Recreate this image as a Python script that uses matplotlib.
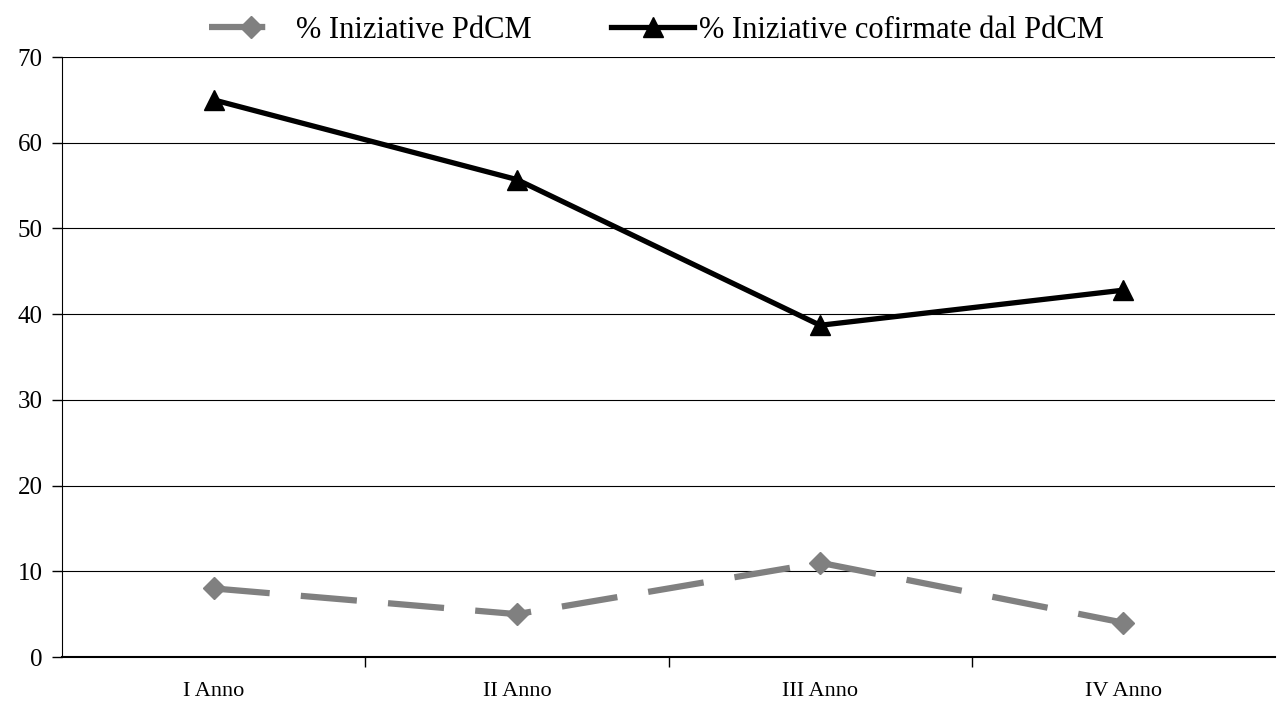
import matplotlib.pyplot as plt
import numpy as np

plt.rcParams["font.family"] = ["Liberation Serif", "DejaVu Serif"]

categories = ["I Anno", "II Anno", "III Anno", "IV Anno"]
iniziative_pdcm = [8, 5, 11, 4]
cofirmate_pdcm = [65, 55.7, 38.7, 42.8]

x = np.arange(len(categories))

fig = plt.figure(figsize=(12.78, 7.02), dpi=100)
ax = fig.add_axes([0.0485, 0.0641, 0.9492, 0.8547])

ax.plot(x, iniziative_pdcm, color="#808080", lw=4.5, dashes=(9, 5),
        marker="D", markersize=11, label="% Iniziative PdCM", zorder=3)
ax.plot(x, cofirmate_pdcm, color="black", lw=3.8,
        marker="^", markersize=14, label="% Iniziative cofirmate dal PdCM", zorder=4)

ax.set_ylim(0, 70)
ax.set_xlim(-0.5, 3.5)
ax.set_yticks(range(0, 71, 10))
ax.yaxis.grid(True, color="black", lw=0.8)
ax.set_axisbelow(True)

ax.set_xticks(x)
ax.set_xticklabels(categories)
ax.tick_params(axis="x", length=0, pad=18, labelsize=16)
ax.set_xticks([0.5, 1.5, 2.5], minor=True)
ax.tick_params(axis="x", which="minor", length=7, width=1, color="black", direction="out")
ax.tick_params(axis="y", length=7, width=1, color="black", direction="out", labelsize=18, pad=7)

for s in ["top", "right"]:
    ax.spines[s].set_visible(False)
ax.spines["left"].set_color("black")
ax.spines["bottom"].set_color("black")
ax.spines["bottom"].set_linewidth(1.5)

ax.legend(loc="lower center", bbox_to_anchor=(0.49, 1.0), ncol=2, frameon=False,
          fontsize=22, handlelength=2.7, handletextpad=0.15, columnspacing=2.6,
          borderaxespad=0)

fig.savefig("out.png", dpi=100)
